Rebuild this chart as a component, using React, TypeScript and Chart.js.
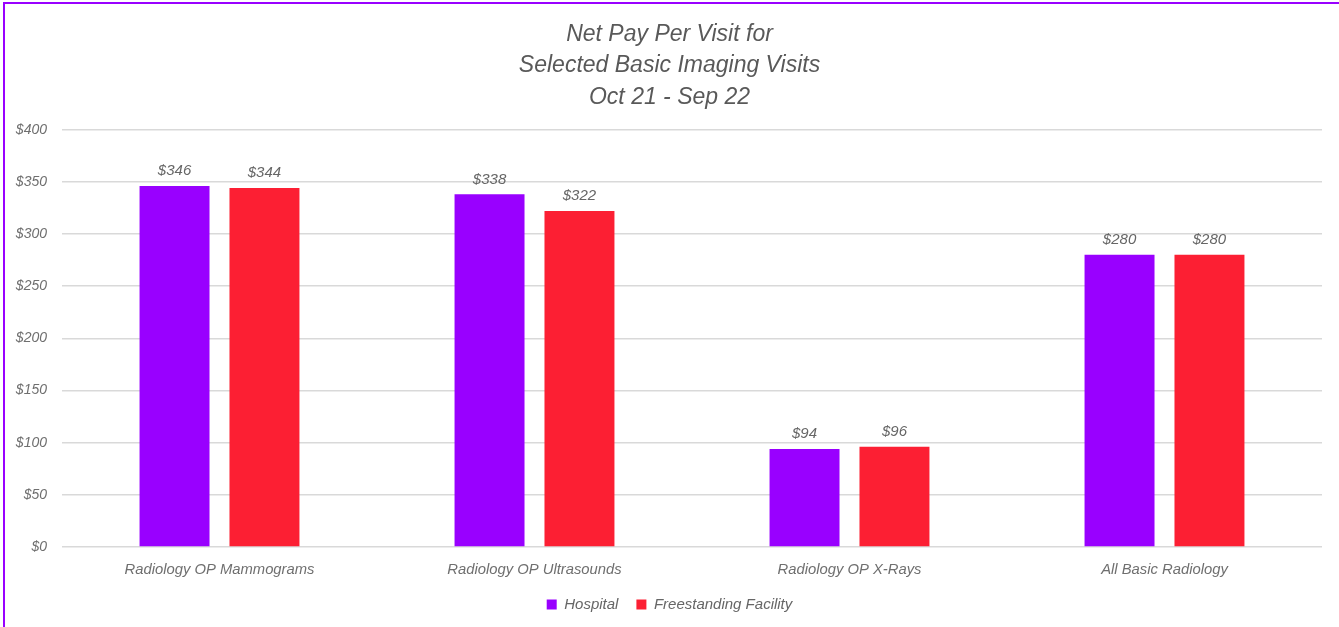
import React, { useEffect, useRef } from "react";
import { Chart, registerables } from "chart.js";

Chart.register(...registerables);

const categories = [
  "Radiology OP Mammograms",
  "Radiology OP Ultrasounds",
  "Radiology OP X-Rays",
  "All Basic Radiology",
];
const hospitalValues = [346, 338, 94, 280];
const freestandingValues = [344, 322, 96, 280];
const seriesNames = ["Hospital", "Freestanding Facility"];
const seriesColors = ["#9900FF", "#FC1F33"];
const titleLines = [
  "Net Pay Per Visit for",
  "Selected Basic Imaging Visits",
  "Oct 21 - Sep 22",
];
const yMin = 0;
const yMax = 400;
const yStep = 50;

const FONT = '"Liberation Sans", Arial, sans-serif';

const valueLabels = {
  id: "valueLabels",
  afterDatasetsDraw(chart: any) {
    const ctx = chart.ctx;
    ctx.save();
    ctx.font = `italic 15px ${FONT}`;
    ctx.fillStyle = "#666666";
    ctx.textAlign = "center";
    ctx.textBaseline = "middle";
    chart.data.datasets.forEach((ds: any, i: number) => {
      const meta = chart.getDatasetMeta(i);
      meta.data.forEach((el: any, j: number) => {
        ctx.fillText("$" + ds.data[j], el.x, el.y - 15);
      });
    });
    ctx.restore();
  },
};

export default function App() {
  const canvasRef = useRef<HTMLCanvasElement | null>(null);

  useEffect(() => {
    if (!canvasRef.current) return;
    const chart = new Chart(canvasRef.current, {
      type: "bar",
      data: {
        labels: categories,
        datasets: [
          {
            label: seriesNames[0],
            data: hospitalValues,
            backgroundColor: seriesColors[0],
            categoryPercentage: 0.571,
            barPercentage: 0.778,
          },
          {
            label: seriesNames[1],
            data: freestandingValues,
            backgroundColor: seriesColors[1],
            categoryPercentage: 0.571,
            barPercentage: 0.778,
          },
        ],
      },
      options: {
        responsive: false,
        animation: false,
        devicePixelRatio: 1,
        layout: { padding: { left: 0, right: 0, top: 0, bottom: 5 } },
        plugins: {
          title: {
            display: true,
            text: titleLines,
            color: "#595959",
            font: { family: FONT, size: 23, style: "italic", weight: "normal", lineHeight: 1.35 },
            padding: { top: 19.5, bottom: 17 },
          },
          legend: {
            position: "bottom",
            labels: {
              boxWidth: 10,
              boxHeight: 10,
              padding: 18,
              color: "#666666",
              font: { family: FONT, size: 15, style: "italic" },
            },
          },
          tooltip: { enabled: false },
        },
        scales: {
          x: {
            afterFit: (s: any) => {
              s.height = 32;
            },
            grid: { display: false, drawTicks: false },
            border: { display: false },
            ticks: {
              padding: 14,
              color: "#6f6f6f",
              font: { family: FONT, size: 14.8, style: "italic" },
            },
          },
          y: {
            min: yMin,
            max: yMax,
            afterFit: (s: any) => {
              s.width = 62;
            },
            grid: { color: "#d9d9d9", lineWidth: 1.5, drawTicks: false },
            border: { display: false },
            ticks: {
              stepSize: yStep,
              padding: 15,
              color: "#6f6f6f",
              font: { family: FONT, size: 14, style: "italic" },
              callback: (v: any) => "$" + v,
            },
          },
          yRightSpace: {
            position: "right",
            display: true,
            afterFit: (s: any) => {
              s.width = 17;
            },
            grid: { display: false, drawTicks: false },
            border: { display: false },
            ticks: { display: false },
          },
        },
      },
      plugins: [valueLabels],
    } as any);
    return () => chart.destroy();
  }, []);

  return (
    <div
      style={{
        position: "fixed",
        left: 0,
        top: 0,
        width: 1339,
        height: 627,
        overflow: "hidden",
        background: "#ffffff",
      }}
    >
      <canvas
        ref={canvasRef}
        width={1339}
        height={627}
        style={{ position: "absolute", left: 0, top: 0, width: 1339, height: 627 }}
      />
      <div
        style={{
          position: "absolute",
          left: 3,
          top: 2,
          width: 1500,
          height: 800,
          borderLeft: "2px solid #9900FF",
          borderTop: "2px solid #9900FF",
          pointerEvents: "none",
        }}
      />
    </div>
  );
}
